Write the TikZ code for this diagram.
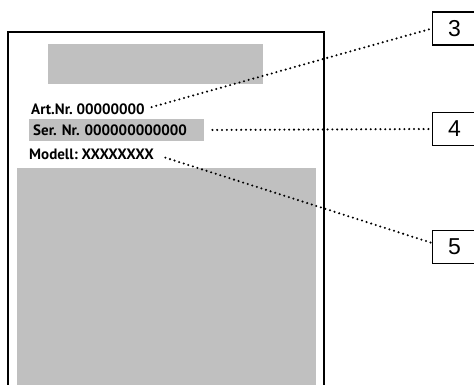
\documentclass[tikz,border=0pt]{standalone}
\usepackage{fontspec}
\setmainfont{Liberation Sans}
\newfontfamily\platefont{PT Sans}
\usetikzlibrary{positioning}

\definecolor{plategray}{RGB}{192,192,192}

\tikzset{
  plate/.style={anchor=west, inner sep=0pt, font=\platefont\bfseries\fontsize{15}{17}\selectfont\frenchspacing},
  numbox/.style={draw, line width=1.1pt, anchor=west, minimum width=44pt, minimum height=33pt, inner sep=0pt, font=\fontsize{23}{26}\selectfont},
  dotline/.style={line width=2.3pt, line cap=round, dash pattern=on 0pt off 4.8pt}
}

\begin{document}
\begin{tikzpicture}[x=1pt,y=-1pt]
    \useasboundingbox (0,0) rectangle (474,385);
    \clip (0,0) rectangle (474,385);
    % label plate
    \draw[line width=1.5pt] (8,392) -- (8,32) -- (324,32) -- (324,392);
    \fill[plategray] (48,44) rectangle (263,84);
    \fill[plategray] (17,168) rectangle (316,392);
    \node[plate] (art) at (31,109) {Art.Nr. 00000000};
    \node[plate, fill=plategray, minimum width=175pt, minimum height=22pt, text width=167pt, inner xsep=4pt] (ser) at (29,130) {Ser. Nr. 000000000000};
    \node[plate] (modell) at (29,154) {Modell: XXXXXXXX};
    % numbers
    \node[numbox] (n3) at (432,28.5) {3};
    \node[numbox] (n4) at (432,129) {4};
    \node[numbox] (n5) at (432,247) {5};
    \draw[dotline, shorten <=7pt] (art.east) -- (n3.west);
    \draw[dotline, shorten <=8pt] (ser.east) -- (n4.west);
    \draw[dotline, shorten <=12pt] (modell.east) -- ([yshift=4pt]n5.west);
\end{tikzpicture}
\end{document}
